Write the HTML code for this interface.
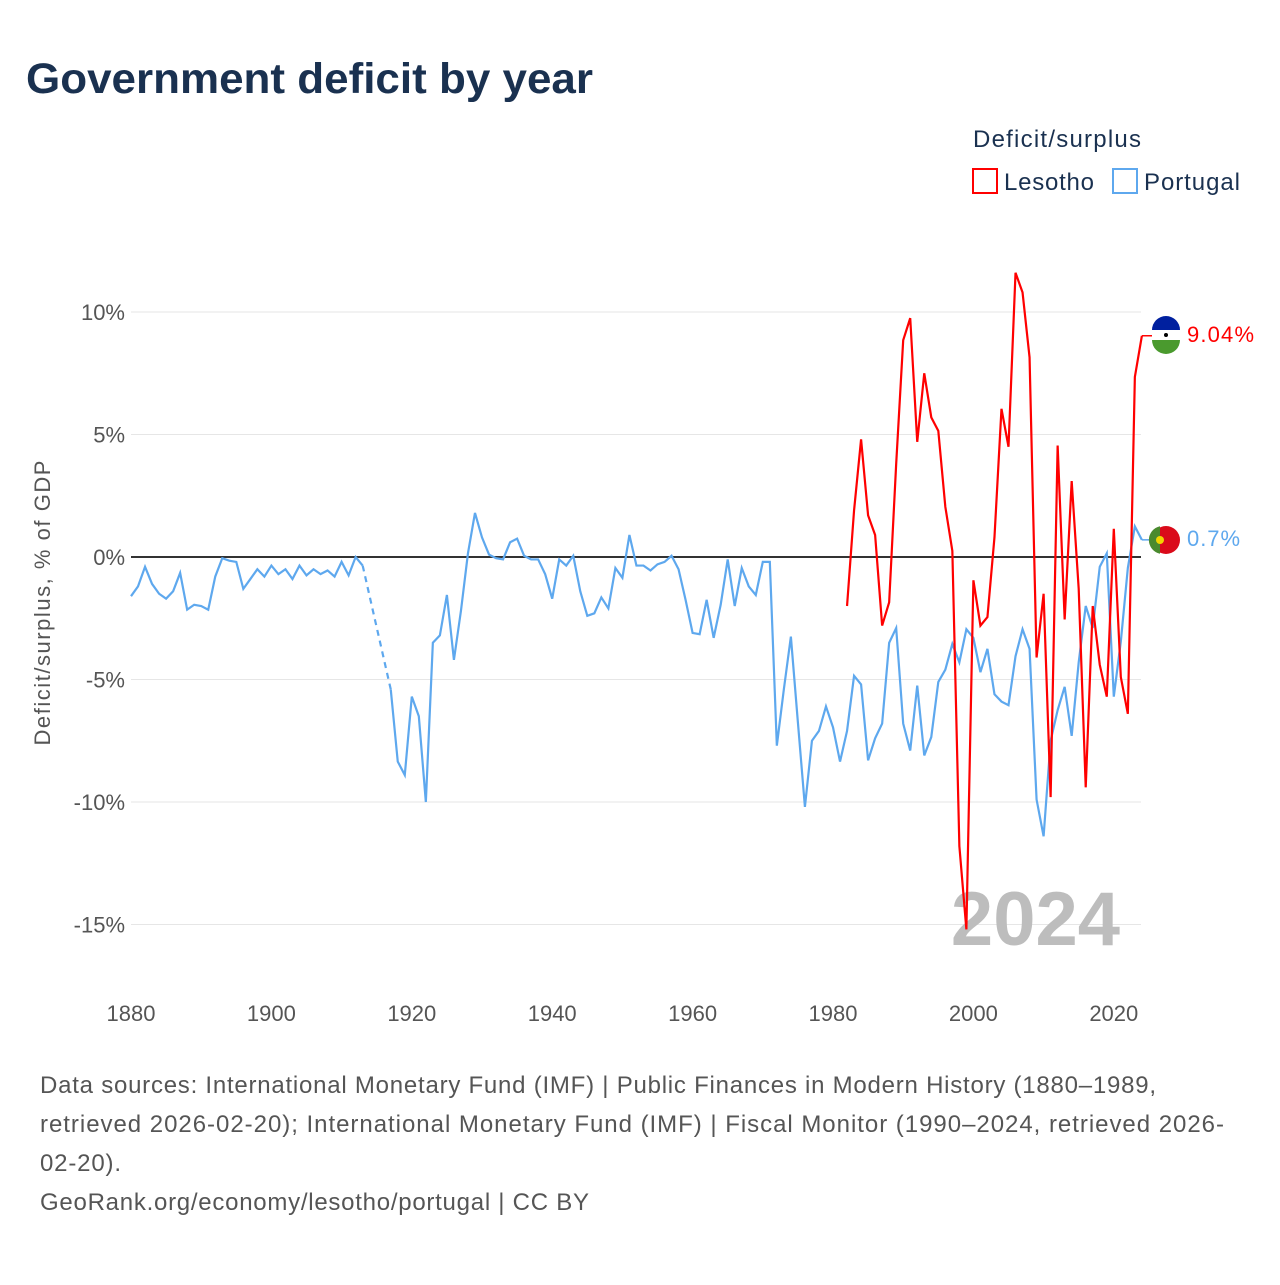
<!DOCTYPE html>
<html><head><meta charset="utf-8"><style>
body{margin:0;background:#fff;width:1280px;height:1280px;overflow:hidden;font-family:"Liberation Sans",sans-serif}
</style></head><body>
<svg id="chart" width="1280" height="1280" xmlns="http://www.w3.org/2000/svg">
<text x="26" y="93" font-size="43" font-weight="bold" fill="#1a3150" textLength="567" lengthAdjust="spacingAndGlyphs">Government deficit by year</text>
<text x="973" y="147" font-size="24" fill="#1a3150" textLength="168">Deficit/surplus</text>
<g><rect x="973" y="169" width="24" height="24" fill="none" stroke="#ff0000" stroke-width="2"/><text x="1004" y="190" font-size="24" fill="#1a3150" textLength="90">Lesotho</text></g>
<g><rect x="1113" y="169" width="24" height="24" fill="none" stroke="#5ea8ee" stroke-width="2"/><text x="1144" y="190" font-size="24" fill="#1a3150" textLength="96">Portugal</text></g>
<text transform="translate(50,603) rotate(-90)" text-anchor="middle" font-size="22" fill="#555" textLength="285">Deficit/surplus, % of GDP</text>
<g id="grid"></g><g id="xt"></g>
<text x="1120" y="945" text-anchor="end" font-size="76" font-weight="bold" fill="#bdbdbd">2024</text>
<g id="series"></g>
<g><circle cx="1166" cy="335" r="14" fill="#fff"/><path d="M1152,330 A14,14 0 0 1 1180,330 Z" fill="#00209f"/><path d="M1152,340 A14,14 0 0 0 1180,340 Z" fill="#4a9a2e"/><circle cx="1166" cy="335" r="2" fill="#000"/></g>
<text x="1187" y="342" font-size="22" fill="#ff0000" textLength="67">9.04%</text>
<g><circle cx="1166" cy="540" r="14" fill="#da0a1a"/><path d="M1160,526.3 A14,14 0 0 0 1160,553.7 Z" fill="#4a8a2e"/><circle cx="1160" cy="540" r="4" fill="#f2d500"/></g>
<text x="1187" y="546" font-size="22" fill="#5ea8ee" textLength="53">0.7%</text>
<g font-size="24" fill="#555">
<text x="40" y="1093" textLength="1116">Data sources: International Monetary Fund (IMF) | Public Finances in Modern History (1880–1989,</text>
<text x="40" y="1132" textLength="1184">retrieved 2026-02-20); International Monetary Fund (IMF) | Fiscal Monitor (1990–2024, retrieved 2026-</text>
<text x="40" y="1171" textLength="81">02-20).</text>
<text x="40" y="1210" textLength="549">GeoRank.org/economy/lesotho/portugal | CC BY</text>
</g>
</svg>
<script>
const yTicks=[10,5,0,-5,-10,-15];
const xTicks=[1880,1900,1920,1940,1960,1980,2000,2020];
const ptStart=1880;
const portugalA=[-1.6,-1.2,-0.4,-1.1,-1.5,-1.7,-1.4,-0.65,-2.15,-1.95,-2.0,-2.15,-0.8,-0.05,-0.15,-0.2,-1.3,-0.9,-0.5,-0.8,-0.35,-0.7,-0.5,-0.9,-0.35,-0.75,-0.5,-0.7,-0.55,-0.8,-0.2,-0.75,0,-0.35];
const ptStart2=1917;
const portugalB=[-5.4,-8.35,-8.9,-5.7,-6.5,-10.0,-3.5,-3.2,-1.55,-4.2,-2.2,0.15,1.8,0.8,0.1,-0.05,-0.1,0.6,0.75,0.05,-0.1,-0.1,-0.7,-1.7,-0.1,-0.35,0.05,-1.4,-2.4,-2.3,-1.65,-2.1,-0.45,-0.85,0.9,-0.35,-0.35,-0.55,-0.3,-0.2,0.05,-0.5,-1.75,-3.1,-3.15,-1.75,-3.3,-1.95,-0.1,-2.0,-0.45,-1.2,-1.55,-0.2,-0.2,-7.7,-5.4,-3.25,-6.75,-10.2,-7.5,-7.1,-6.1,-6.95,-8.35,-7.1,-4.85,-5.2,-8.3,-7.4,-6.8,-3.5,-2.9,-6.8,-7.9,-5.25,-8.1,-7.35,-5.1,-4.6,-3.55,-4.3,-2.95,-3.3,-4.7,-3.75,-5.6,-5.9,-6.05,-4.05,-2.95,-3.75,-9.9,-11.4,-7.5,-6.25,-5.3,-7.3,-4.3,-2.0,-2.9,-0.4,0.15,-5.7,-3.45,-0.45,1.25,0.7];
const lsStart=1982;
const lesotho=[-2.0,1.9,4.8,1.7,0.9,-2.8,-1.85,3.8,8.85,9.75,4.7,7.5,5.7,5.15,2.05,0.25,-11.8,-15.2,-0.95,-2.8,-2.45,0.8,6.05,4.5,11.6,10.8,8.15,-4.1,-1.5,-9.8,4.55,-2.55,3.1,-1.3,-9.4,-2.0,-4.4,-5.7,1.15,-4.9,-6.4,7.35,9.03];
const NS='http://www.w3.org/2000/svg';
const X=y=>131+(y-1880)*7.02;
const Y=v=>557-v*24.5;
function mk(t,a,p){const e=document.createElementNS(NS,t);for(const k in a)e.setAttribute(k,a[k]);p.appendChild(e);return e;}
const grid=document.getElementById('grid');
yTicks.forEach(v=>{
 const l=mk('line',{x1:131,x2:1141,y1:Y(v),y2:Y(v),stroke:v===0?'#333':'#e6e6e6','stroke-width':v===0?2:1},grid);
 
 
 const t=mk('text',{x:125,y:Y(v)+8,'text-anchor':'end','font-size':22,fill:'#555'},grid);
 t.textContent=v+'%';
 
 
});
const xt=document.getElementById('xt');
xTicks.forEach(y=>{
 const t=mk('text',{x:X(y),y:1021,'text-anchor':'middle','font-size':22,fill:'#555'},xt);
 t.textContent=y;
 
 
});
const s=document.getElementById('series');
function pts(arr,st){return arr.map((v,i)=>X(st+i)+','+Y(v)).join(' ');}
let p=mk('polyline',{points:pts(portugalA,ptStart),fill:'none',stroke:'#5ea8ee','stroke-width':2.2},s);


const lastA=portugalA.length-1;
p=mk('line',{x1:X(ptStart+lastA),y1:Y(portugalA[lastA]),x2:X(ptStart2),y2:Y(portugalB[0]),stroke:'#5ea8ee','stroke-width':2.2,'stroke-dasharray':'6,5'},s);


p=mk('polyline',{points:pts(portugalB,ptStart2),fill:'none',stroke:'#5ea8ee','stroke-width':2.2},s);


p=mk('polyline',{points:pts(lesotho,lsStart),fill:'none',stroke:'#ff0000','stroke-width':2.2},s);


p=mk('line',{x1:X(2024),y1:Y(lesotho[lesotho.length-1]),x2:1152,y2:Y(lesotho[lesotho.length-1]),stroke:'#ff0000','stroke-width':1.5},s);


p=mk('line',{x1:X(2024),y1:Y(portugalB[portugalB.length-1]),x2:1152,y2:Y(portugalB[portugalB.length-1]),stroke:'#5ea8ee','stroke-width':1.5},s);


</script>
</body></html>
